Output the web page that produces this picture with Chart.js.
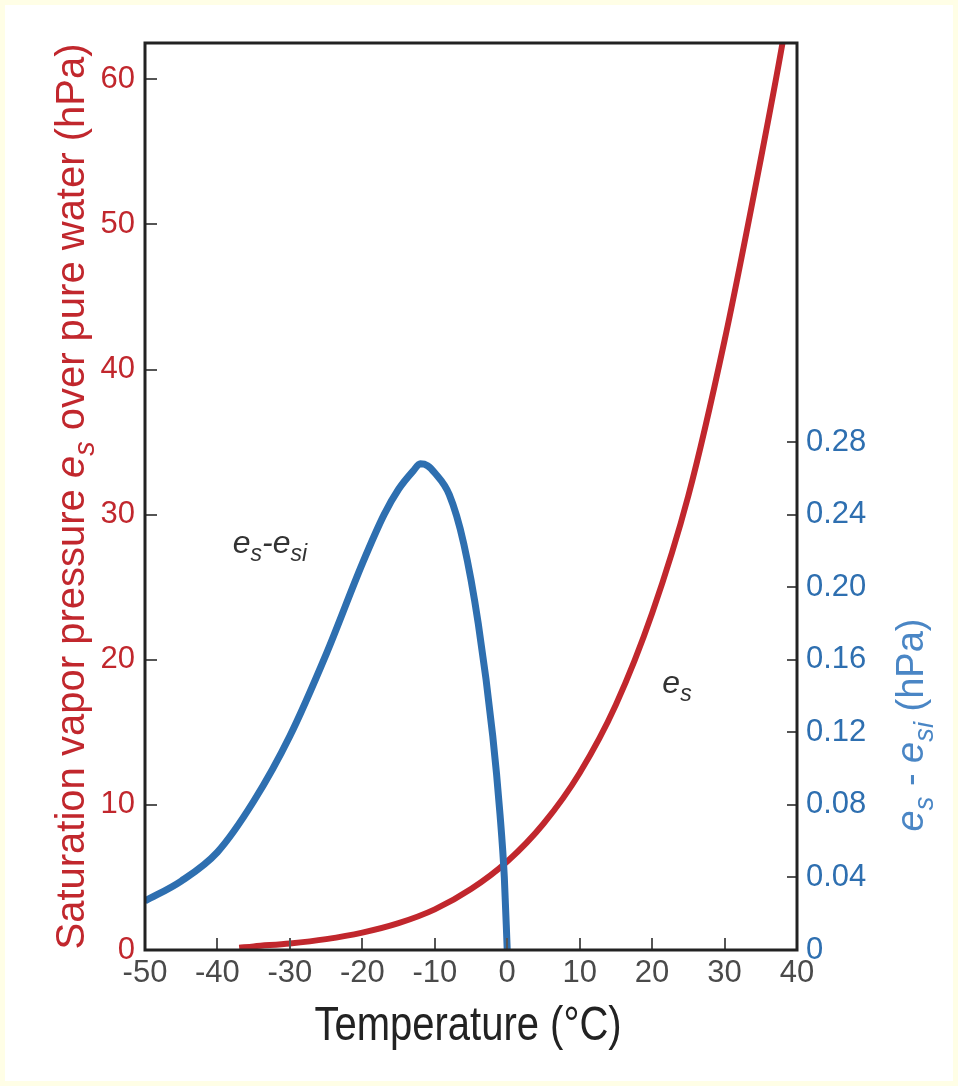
<!DOCTYPE html>
<html><head><meta charset="utf-8">
<script src="https://cdn.jsdelivr.net/npm/chart.js@4.4.1/dist/chart.umd.min.js"></script>
<style>
html,body{margin:0;padding:0;background:#fffee6;}
canvas{display:block;}
</style>
</head><body>
<canvas id="c" width="958" height="1086"></canvas>
<script>
// ---- data ----
const esTemp   = [-37, -35, -30, -25, -20, -15, -10, -5, 0, 5, 10, 15, 20, 25, 30, 35, 38, 39];
const esValues = [0.15, 0.25, 0.45, 0.75, 1.2, 1.85, 2.8, 4.2, 6.1, 8.7, 12.2, 16.9, 23.2, 31.3, 42.0, 54.5, 62.5, 65.5];

const diffTemp   = [-50, -45, -40, -35, -30, -25, -20, -17, -15, -13, -12, -11, -10, -8, -6, -4, -2, -1, -0.4, 0];
const diffValues = [0.027, 0.038, 0.054, 0.082, 0.118, 0.163, 0.213, 0.240, 0.254, 0.264, 0.268, 0.267, 0.263, 0.251, 0.224, 0.180, 0.118, 0.075, 0.040, 0];

const xTickValues     = [-50, -40, -30, -20, -10, 0, 10, 20, 30, 40];
const leftTickValues  = [0, 10, 20, 30, 40, 50, 60];
const rightTickValues = [0, 0.04, 0.08, 0.12, 0.16, 0.20, 0.24, 0.28];

const xTitle = 'Temperature (°C)';
const leftTitle = [
  {text: 'Saturation vapor pressure '},
  {text: 'e', italic: true},
  {text: 's', italic: true, sub: true},
  {text: ' over pure water (hPa)'}
];
const rightTitle = [
  {text: 'e', italic: true},
  {text: 's', italic: true, sub: true},
  {text: ' - '},
  {text: 'e', italic: true},
  {text: 'si', italic: true, sub: true},
  {text: ' (hPa)'}
];
const labelDiff = [
  {text: 'e', italic: true},
  {text: 's', italic: true, sub: true},
  {text: '-', italic: true},
  {text: 'e', italic: true},
  {text: 'si', italic: true, sub: true}
];
const labelEs = [
  {text: 'e', italic: true},
  {text: 's', italic: true, sub: true}
];

// ---- styling ----
const FONT = "'Liberation Sans', Arial, Helvetica, sans-serif";
const RED = '#c1272d';
const BLUE = '#2e6fb0';
const BLUE_T = '#4a86c5';

function segFont(seg, base) {
  const size = seg.sub ? base * 0.72 : base;
  return (seg.italic ? 'italic ' : '') + size + 'px ' + FONT;
}
function richWidth(ctx, segs, base) {
  let w = 0;
  for (const s of segs) { ctx.font = segFont(s, base); w += ctx.measureText(s.text).width; }
  return w;
}
function drawRich(ctx, segs, base, x, y, rot, color, sy) {
  ctx.save();
  ctx.translate(x, y);
  ctx.rotate(rot);
  if (sy) ctx.scale(1, sy);
  ctx.fillStyle = color;
  ctx.textBaseline = 'alphabetic';
  ctx.textAlign = 'left';
  const w = richWidth(ctx, segs, base);
  let cx = -w / 2;
  for (const s of segs) {
    ctx.font = segFont(s, base);
    ctx.fillText(s.text, cx, s.sub ? base * 0.25 : 0);
    cx += ctx.measureText(s.text).width;
  }
  ctx.restore();
}

const decor = {
  id: 'decor',
  beforeDraw(chart) {
    const ctx = chart.ctx;
    ctx.save();
    ctx.fillStyle = '#fffee6';
    ctx.fillRect(0, 0, chart.width, chart.height);
    ctx.fillStyle = '#ffffff';
    ctx.fillRect(5, 5, chart.width - 10, chart.height - 10);
    ctx.restore();
  },
  afterDatasetsDraw(chart) {
    const ctx = chart.ctx;
    const a = chart.chartArea;
    const sx = chart.scales.x, sy = chart.scales.y, sy1 = chart.scales.y1;
    ctx.save();
    // inward ticks
    ctx.strokeStyle = '#555';
    ctx.lineWidth = 2;
    ctx.beginPath();
    for (const v of xTickValues) {
      if (v === xTickValues[0] || v === xTickValues[xTickValues.length - 1]) continue;
      const px = Math.round(sx.getPixelForValue(v));
      ctx.moveTo(px, a.bottom); ctx.lineTo(px, a.bottom - 12);
    }
    for (const v of leftTickValues) {
      if (v === 0) continue;
      const py = Math.round(sy.getPixelForValue(v));
      ctx.moveTo(a.left, py); ctx.lineTo(a.left + 12, py);
    }
    for (const v of rightTickValues) {
      if (v === 0) continue;
      const py = Math.round(sy1.getPixelForValue(v));
      ctx.moveTo(a.right, py); ctx.lineTo(a.right - 10, py);
    }
    ctx.stroke();
    // frame
    ctx.strokeStyle = '#222';
    ctx.lineWidth = 3;
    ctx.strokeRect(a.left, a.top, a.right - a.left, a.bottom - a.top);
    ctx.restore();

    // titles
    drawRich(ctx, leftTitle, 40, 84, (a.top + a.bottom) / 2, -Math.PI / 2, RED);
    drawRich(ctx, rightTitle, 38, 923, 725, -Math.PI / 2, BLUE_T);
    drawRich(ctx, [{text: xTitle}], 40, 468, 1040, 0, '#222', 1.2);
    // curve labels
    drawRich(ctx, labelDiff, 32, 270, 553, 0, '#333');
    drawRich(ctx, labelEs, 32, 677, 693, 0, '#333');
  }
};

const tickFont = {family: FONT, size: 31};

new Chart(document.getElementById('c'), {
  type: 'line',
  data: {
    datasets: [
      {
        label: 'es - esi',
        data: diffTemp.map((t, i) => ({x: t, y: diffValues[i]})),
        yAxisID: 'y1',
        borderColor: BLUE,
        borderWidth: 7,
        pointRadius: 0,
        cubicInterpolationMode: 'monotone',
        fill: false
      },
      {
        label: 'es',
        data: esTemp.map((t, i) => ({x: t, y: esValues[i]})),
        yAxisID: 'y',
        borderColor: RED,
        borderWidth: 6,
        pointRadius: 0,
        cubicInterpolationMode: 'monotone',
        fill: false
      }
    ]
  },
  options: {
    responsive: false,
    animation: false,
    devicePixelRatio: 1,
    layout: {padding: {top: 43, left: 0, right: 0, bottom: 0}},
    plugins: {legend: {display: false}, tooltip: {enabled: false}},
    scales: {
      x: {
        type: 'linear', min: -50, max: 40,
        afterBuildTicks: s => { s.ticks = xTickValues.map(v => ({value: v})); },
        afterFit: s => { s.height = 136; },
        grid: {display: false, drawTicks: false},
        border: {display: false},
        ticks: {color: '#4a4a4a', font: {family: FONT, size: 31}, padding: 5, maxRotation: 0, autoSkip: false,
                callback: v => String(v)}
      },
      y: {
        type: 'linear', position: 'left', min: 0, max: 62.5,
        afterBuildTicks: s => { s.ticks = leftTickValues.map(v => ({value: v})); },
        afterFit: s => { s.width = 145; },
        grid: {display: false, drawTicks: false},
        border: {display: false},
        ticks: {color: RED, font: tickFont, padding: 10, autoSkip: false, callback: v => String(v)}
      },
      y1: {
        type: 'linear', position: 'right', min: 0, max: 0.5,
        afterBuildTicks: s => { s.ticks = rightTickValues.map(v => ({value: v})); },
        afterFit: s => { s.width = 161; },
        grid: {display: false, drawTicks: false},
        border: {display: false},
        ticks: {color: BLUE, font: tickFont, padding: 9, autoSkip: false,
                callback: v => (v === 0 ? '0' : v.toFixed(2))}
      }
    }
  },
  plugins: [decor]
});
</script>
</body></html>
